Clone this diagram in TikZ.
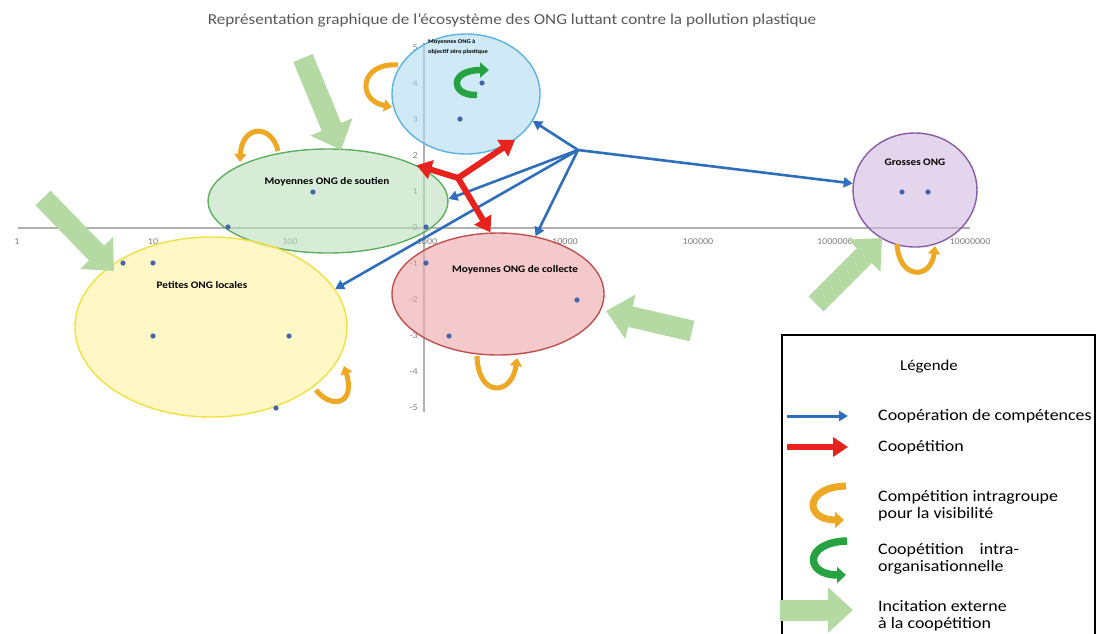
\documentclass[tikz,border=0pt]{standalone}
\usepackage{fontspec}
\setmainfont[FakeStretch=1.12]{Carlito}
\usetikzlibrary{arrows.meta,shapes.geometric}
\definecolor{axline}{HTML}{B0B0B0}
\definecolor{axtext}{HTML}{7F7F7F}
\definecolor{titlegray}{HTML}{595959}
\definecolor{cblue}{HTML}{2F6EBA}
\definecolor{cred}{HTML}{E8221C}
\definecolor{corange}{HTML}{EEA823}
\definecolor{cgreen}{HTML}{27A243}
\definecolor{lgreen}{HTML}{B4D9A2}
\definecolor{dotc}{HTML}{4563AE}
\definecolor{gfill}{RGB}{187,223,187}
\definecolor{gedge}{HTML}{5FAE62}
\definecolor{yfill}{RGB}{255,243,160}
\definecolor{yedge}{HTML}{F2E040}
\definecolor{rfill}{RGB}{235,165,168}
\definecolor{redge}{HTML}{C0504D}
\definecolor{pfill}{RGB}{208,185,223}
\definecolor{pedge}{HTML}{8A5BA6}
\definecolor{bfill}{RGB}{175,218,242}
\definecolor{bedge}{HTML}{5BB2E3}
\begin{document}
\begin{tikzpicture}[x=1pt,y=-1pt,
  axis/.style={draw=axline,line width=1.6pt},
  axlab/.style={font=\fontsize{9}{10}\selectfont,text=axtext,inner sep=0pt},
  ell/.style={ellipse,inner sep=0pt,line width=1.4pt,fill opacity=0.6},
  glab/.style={font=\fontsize{10}{12}\selectfont\bfseries,inner sep=0pt},
  dot/.style={fill=dotc},
  coop/.style={draw=cblue,line width=2.6pt,-{Triangle[length=9pt,width=10pt]}},
  coopet/.style={draw=cred,line width=6pt,-{Triangle[length=15pt,width=19pt]}},
  curlo/.style={draw=corange,line width=5pt,-{Triangle[length=8pt,width=12pt]}},
  curlg/.style={draw=cgreen,line width=6.5pt,-{Triangle[length=9pt,width=15pt]}},
  incit/.style={draw=lgreen,line width=21pt,-{Triangle[length=25pt,width=44pt]}},
  legtext/.style={font=\fontsize{16}{17}\selectfont,anchor=west,inner sep=0pt,align=left}
]
\useasboundingbox (0,0) rectangle (1099,633);

% title
\node[font=\fontsize{15.3}{17}\selectfont,text=titlegray,inner sep=0pt] (title) at (512,20)
  {Représentation graphique de l'écosystème des ONG luttant contre la pollution plastique};

% axes
\draw[axis] (18,228) -- (970,228);
\draw[axis] (424,43) -- (424,412);
\foreach \v in {5,4,...,-5}
  \node[axlab,anchor=east] at (418,{228-36*\v}) {\v};
\foreach \x/\t in {17/1,153/10,290/100,427/1000,565/10000,698/100000,835/1000000,970/10000000}
  \node[axlab] at (\x,242) {\t};

% groups (ellipses)
\node[ell,draw=bedge,fill=bfill,minimum width=148pt,minimum height=120pt] (topE) at (466,94) {};
\node[ell,draw=gedge,fill=gfill,minimum width=240pt,minimum height=104pt] (soutien) at (328,201) {};
\node[ell,draw=yedge,fill=yfill,minimum width=272pt,minimum height=180pt] (petites) at (211,327) {};
\node[ell,draw=redge,fill=rfill,minimum width=212pt,minimum height=122pt] (collecte) at (498,294) {};
\node[ell,draw=pedge,fill=pfill,minimum width=124pt,minimum height=114pt] (grosses) at (915,190) {};

% group labels
\node[font=\fontsize{5.8}{10}\selectfont\bfseries,inner sep=0pt,anchor=north west,align=left] (topL) at (428,39)
  {Moyennes ONG à\\objectif zéro plastique};
\node[glab] (soutienL) at (327,182) {Moyennes ONG de soutien};
\node[glab] (petitesL) at (202,285) {Petites ONG locales};
\node[glab] (collecteL) at (515,270) {Moyennes ONG de collecte};
\node[glab] (grossesL) at (915,162) {Grosses ONG};

% data points
\foreach \p in {(482,83),(460,119),(313,192),(228,227),(426,227),(123,263),(153,263),(153,336),(289,336),(276,408),(426,263),(577,300),(449,336),(902,192),(928,192)}
  \fill[dot] \p circle (2.6);

% external incitation arrows
\draw[incit] (303,58) -- (341,150);
\draw[incit] (43,198) -- (114,271);
\draw[incit] (692,331) -- (606,311);
\draw[incit] (816,304) -- (882,238);

% intragroup competition (orange curls)
\draw[curlo] (398,65) .. controls (360,62) and (356,100) .. (392,107);
\draw[curlo] (278,151) .. controls (272,124) and (242,124) .. (240,162);
\draw[curlo] (316,390) .. controls (332,410) and (356,404) .. (344,366);
\draw[curlo] (477,356) .. controls (478,398) and (512,396) .. (517,358);
\draw[curlo] (897,244) .. controls (899,280) and (931,280) .. (935,246);

% intra-organisational coopetition (green curl)
\draw[curlg] (477,95) .. controls (450,96) and (449,70) .. (489,70);

% skill cooperation (blue)
\coordinate (bh) at (578,150);
\draw[coop] (bh) -- (topE.-22);
\draw[coop] (bh) -- (grosses.174);
\draw[coop] (bh) -- (soutien.1);
\draw[coop] (bh) -- (collecte.57);
\draw[coop] (bh) -- (petites.17);

% coopetition (red)
\coordinate (rh) at (458,178);
\draw[coopet] (rh) -- (topE.-43);
\draw[coopet] (rh) -- (soutien.22);
\draw[coopet] (rh) -- (collecte.97);

% legend
\draw[line width=1.8pt] (782,640) -- (782,335) -- (1095,335) -- (1095,640);
\node[font=\fontsize{15}{17}\selectfont,inner sep=0pt] (legT) at (929,367) {Légende};
\coordinate (lb1) at (787,416); \coordinate (lb2) at (848,416);
\draw[coop,line width=3pt] (lb1) -- (lb2);
\node[legtext] (l1) at (878,416) {Coopération de compétences};
\coordinate (lr1) at (787,447); \coordinate (lr2) at (848,447);
\draw[coopet] (lr1) -- (lr2);
\node[legtext] (l2) at (878,447) {Coopétition};
\draw[curlo,line width=7pt,-{Triangle[length=9pt,width=16pt]}] (846,486) .. controls (804,487) and (804,520) .. (844,520);
\node[legtext] (l3) at (878,506) {Compétition intragroupe\\pour la visibilité};
\draw[curlg,line width=7.5pt,-{Triangle[length=9pt,width=16pt]}] (847,541) .. controls (804,542) and (804,575) .. (846,575);
\node[legtext] (l4) at (878,559) {Coopétition\quad intra-\\organisationnelle};
\coordinate (lg1) at (780,610); \coordinate (lg2) at (853,610);
\draw[incit] (lg1) -- (lg2);
\node[legtext] (l5) at (878,616) {Incitation externe\\à la coopétition};
\end{tikzpicture}
\end{document}
